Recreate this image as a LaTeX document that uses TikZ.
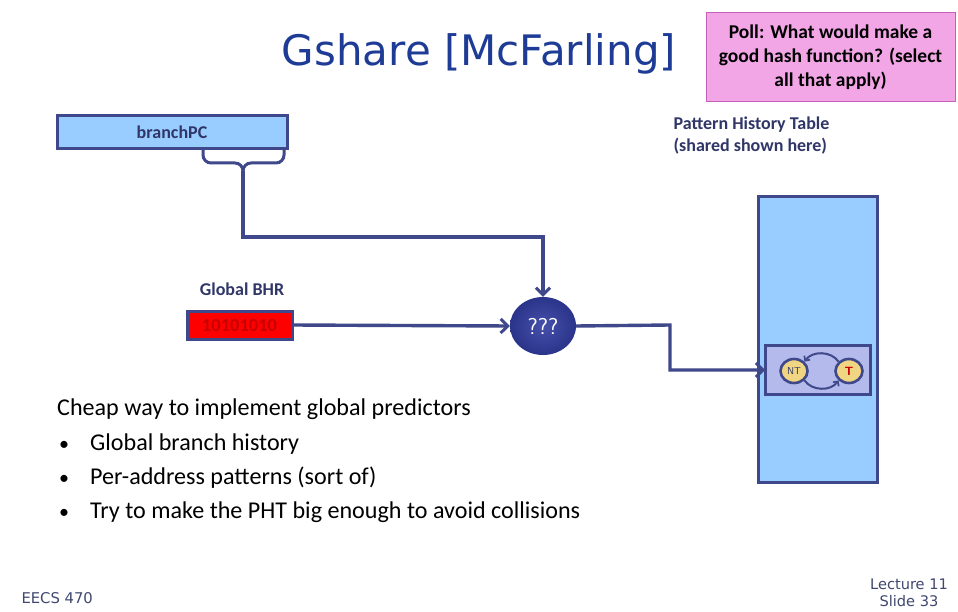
\documentclass[tikz,border=0pt]{standalone}
\usepackage{fontspec}
\setmainfont{Carlito}
\newfontfamily\titlefont{DejaVu Sans}
\usetikzlibrary{arrows.meta,shapes.geometric}
\definecolor{navy}{RGB}{62,72,138}
\definecolor{lblue}{RGB}{153,204,255}
\definecolor{pinkfill}{RGB}{243,166,230}
\definecolor{pinkline}{RGB}{196,96,186}
\definecolor{ballcol}{RGB}{42,52,138}
\definecolor{balllight}{RGB}{70,80,170}
\definecolor{lav}{RGB}{180,186,236}
\definecolor{khaki}{RGB}{240,214,130}
\definecolor{titlecol}{RGB}{30,60,150}
\definecolor{labcol}{RGB}{48,54,104}
\definecolor{footcol}{RGB}{64,72,112}
\definecolor{bhrtext}{RGB}{200,0,0}
\tikzset{
  wire/.style={draw=navy,line width=3.4pt},
  tipped/.style={wire,-{Straight Barb[length=7pt,width=14pt,line width=3pt]}},
  boxstyle/.style={draw=navy,line width=3pt,inner sep=0pt,outer sep=0pt},
  lab/.style={font=\bfseries\fontsize{18}{22}\selectfont,text=labcol},
  state/.style={ellipse,draw=navy,line width=2.6pt,fill=khaki,minimum width=27pt,minimum height=24pt,inner sep=0pt,font=\sffamily\fontsize{10}{10}\selectfont},
  smallarrow/.style={draw=navy,line width=2pt,-{Straight Barb[length=3.5pt,width=7pt,line width=1.7pt]}}
}
\begin{document}
\begin{tikzpicture}[x=1pt,y=-1pt]
\path[fill=white] (0,0) rectangle (958,612);
\useasboundingbox (0,0) rectangle (958,612);
% title
\node[font=\titlefont\fontsize{42}{44}\selectfont,text=titlecol] (title) at (479,54) {Gshare [McFarling]};
% poll box
\node[draw=pinkline,line width=1pt,fill=pinkfill,minimum width=249pt,minimum height=89pt,inner sep=0pt,align=center,font=\bfseries\fontsize{19.5}{24}\selectfont] (poll) at (830.5,57.5) {Poll: What would make a\\good hash function? (select\\all that apply)};
% branchPC
\node[boxstyle,fill=lblue,minimum width=230pt,minimum height=33pt,lab] (pc) at (172,132.5) {branchPC};
\coordinate (bl) at (203,149);
\coordinate (br) at (284,149);
\coordinate (bt) at (243,171);
\draw[wire,line width=3pt,line cap=round] (bl) -- (203,155) to[out=-90,in=180] (211,163) -- (235,163) to[out=0,in=90] (bt);
\draw[wire,line width=3pt,line cap=round] (br) -- (284,155) to[out=-90,in=0] (276,163) -- (251,163) to[out=180,in=90] (bt);
% hash node
\node[ellipse,inner color=balllight,outer color=ballcol,minimum width=66pt,minimum height=58pt,inner sep=0pt,text=white,font=\sffamily\fontsize{23}{23}\selectfont] (hash) at (543,326) {???};
\coordinate (turn) at (543,237);
\draw[tipped] (bt) |- (turn) -- (hash.north);
% Global BHR
\node[lab] (bhrlab) at (242,289) {Global BHR};
\node[boxstyle,fill=red,minimum width=105pt,minimum height=28pt,font=\bfseries\fontsize{18.5}{18.5}\selectfont,text=bhrtext] (bhr) at (239.5,325) {10101010};
\draw[tipped] (bhr.east) -- (hash.west);
% PHT
\node[align=left,lab,anchor=west,font=\bfseries\fontsize{18}{22}\selectfont] (phtlab) at (670,136) {Pattern History Table\\(shared shown here)};
\node[boxstyle,fill=lblue,minimum width=119pt,minimum height=285pt] (pht) at (817.5,339.5) {};
\node[boxstyle,fill=lav,minimum width=105pt,minimum height=49pt] (inner) at (817.5,370) {};
\node[state,text=labcol] (nt) at (794,371) {NT};
\node[state,text=red!80!black,font=\sffamily\bfseries\fontsize{12}{12}\selectfont] (t) at (849,371) {T};
\draw[smallarrow] (t.north west) to[out=125,in=55] (nt.north east);
\draw[smallarrow] (nt.south east) to[out=-55,in=-125] (t.south west);
\coordinate (jog) at (670,325);
\draw[tipped] (hash.east) -- (jog) |- (inner.west);
% body text
\node[anchor=north west,align=left,font=\fontsize{24.1}{34.3}\selectfont,inner sep=0pt] (body) at (57,399) {Cheap way to implement global predictors\\
\makebox[33pt][l]{\hspace{2pt}{\fontsize{20}{20}\selectfont •}}Global branch history\\
\makebox[33pt][l]{\hspace{2pt}{\fontsize{20}{20}\selectfont •}}Per-address patterns (sort of)\\
\makebox[33pt][l]{\hspace{2pt}{\fontsize{20}{20}\selectfont •}}Try to make the PHT big enough to avoid collisions};
% footer
\node[font=\titlefont\fontsize{14.8}{16}\selectfont,text=footcol,anchor=west] (foot) at (18,598) {EECS 470};
\node[font=\titlefont\fontsize{14.6}{17}\selectfont,text=footcol,align=center] (slide) at (909,593) {Lecture 11\\Slide 33};
\end{tikzpicture}
\end{document}
